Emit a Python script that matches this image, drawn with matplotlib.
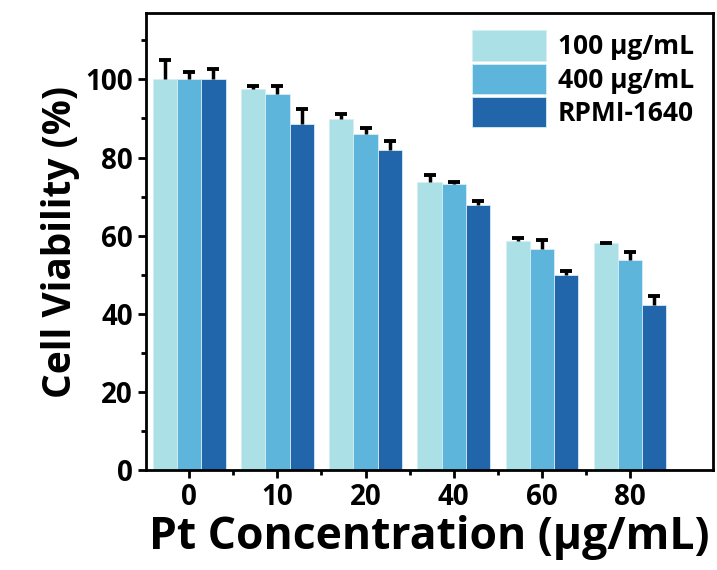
import numpy as np
import matplotlib
matplotlib.use("Agg")
import matplotlib.pyplot as plt
from matplotlib.ticker import MultipleLocator, FixedLocator

# ── Data ──────────────────────────────────────────────────────────────────────
concentrations = ["0", "10", "20", "40", "60", "80"]
series_labels = ["100 μg/mL", "400 μg/mL", "RPMI-1640"]
viab_100 = [100.0, 97.6, 89.9, 73.8, 58.5, 58.0]
viab_400 = [100.0, 96.3, 86.0, 73.1, 56.7, 53.8]
viab_rpmi = [100.0, 88.5, 82.0, 67.8, 49.9, 42.2]
err_100 = [5.0, 0.8, 1.2, 1.8, 0.8, 0.2]
err_400 = [2.0, 1.9, 1.5, 0.7, 2.1, 2.1]
err_rpmi = [2.7, 3.8, 2.2, 1.0, 1.1, 2.3]

colors = ["#abe0e6", "#5eb5dc", "#2166ab"]

plt.rcParams["font.family"] = ["Open Sans", "DejaVu Sans"]
plt.rcParams["font.weight"] = "bold"

fig = plt.figure(figsize=(7.17, 5.70), dpi=100)
ax = fig.add_axes([146 / 717, 100 / 570, (713 - 146) / 717, (470 - 13) / 570])

x = np.arange(len(concentrations))
width = 0.275
values = [viab_100, viab_400, viab_rpmi]
errors = [err_100, err_400, err_rpmi]
for i, (vals, errs) in enumerate(zip(values, errors)):
    pos = x + (i - 1) * width
    vals = np.array(vals)
    errs = np.array(errs)
    ax.bar(pos, vals, width, color=colors[i], label=series_labels[i],
           edgecolor="#d6eef5", linewidth=0.6, zorder=2)
    # upper-only error bars: stem + single cap
    ax.errorbar(pos, vals, yerr=[np.zeros(len(errs)), errs], fmt="none",
                ecolor="black", elinewidth=2.5, capsize=0, zorder=3)
    ax.plot(pos, vals + errs, ls="none", marker="_", markersize=9,
            mew=2.8, color="black", zorder=4)

ax.set_xlim(-0.49, 5.94)
ax.set_ylim(0, 117)
ax.set_xticks(x)
ax.set_xticklabels(concentrations)
ax.xaxis.set_minor_locator(FixedLocator(x[:-1] + 0.5))
ax.yaxis.set_major_locator(MultipleLocator(20))
ax.yaxis.set_minor_locator(MultipleLocator(10))

for sp in ax.spines.values():
    sp.set_linewidth(2)
ax.tick_params(axis="both", which="major", direction="out", length=6, width=2,
               labelsize=20)
ax.tick_params(axis="both", which="minor", direction="out", length=3.5, width=2)

ax.set_xlabel("Pt Concentration (μg/mL)", fontsize=32, fontweight="bold", labelpad=2)
ax.set_ylabel("Cell Viability (%)", fontsize=28, fontweight="bold", labelpad=4)

ax.legend(loc="upper right", frameon=False, fontsize=19, handlelength=2.8,
          handleheight=1.4, handletextpad=0.45, labelspacing=0.1,
          borderaxespad=0.0, bbox_to_anchor=(0.985, 0.985))

fig.savefig("out.png", dpi=100)
